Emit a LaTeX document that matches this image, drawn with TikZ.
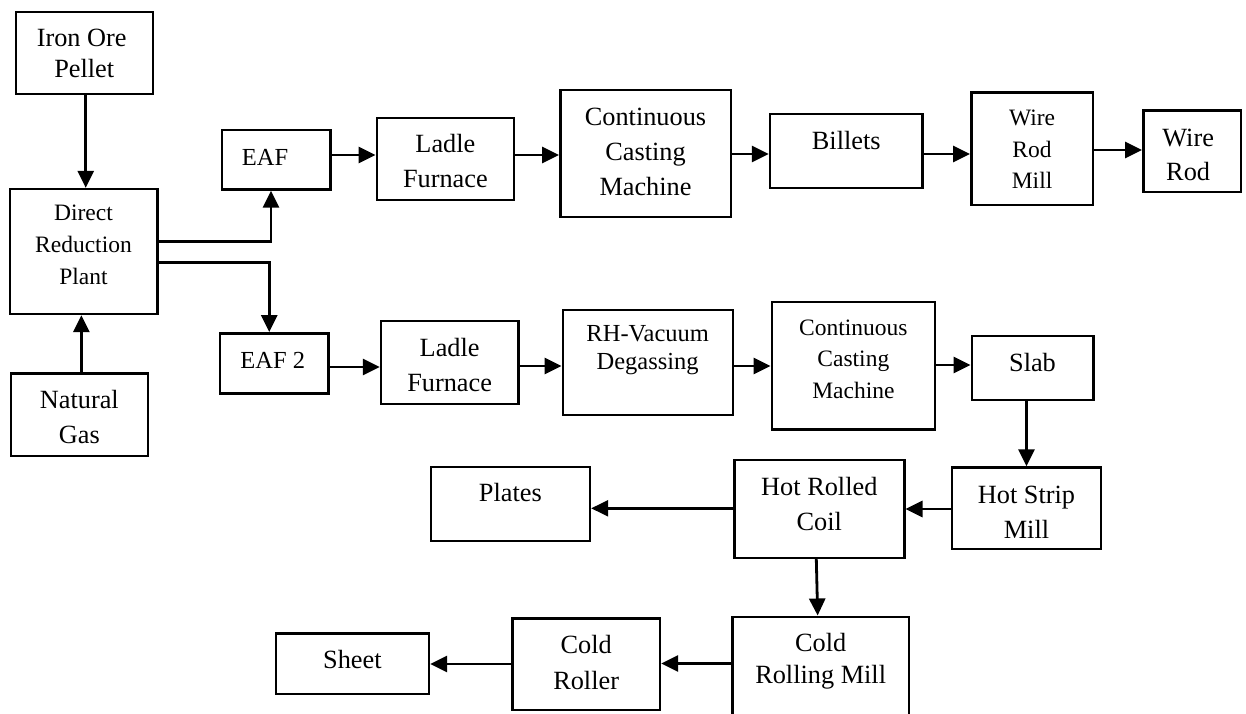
\documentclass[tikz,border=0pt]{standalone}
\usepackage{fontspec}
\setmainfont{Liberation Serif}
\usetikzlibrary{fit,calc,arrows.meta}

\begin{document}
\begin{tikzpicture}[x=1pt,y=-1pt,
  stepbox/.style={draw,line width=2.4pt,inner sep=0pt,fill=white},
  lbl/.style={inner sep=0pt,anchor=base},
  fbig/.style={font=\fontsize{26.3pt}{30pt}\selectfont},
  fmid/.style={font=\fontsize{24.5pt}{28pt}\selectfont},
  fsmall/.style={font=\fontsize{23.5pt}{28pt}\selectfont},
  arr/.style={line width=2.8pt,-{Triangle[length=17pt,width=16pt]}}]

\useasboundingbox (0,0) rectangle (1246,713);
\clip (0,0) rectangle (1246,713);
\fill[white] (0,0) rectangle (1246,713);

% ---- boxes ----
\node[stepbox,fit={(15.7,11.7) (152.7,94)}]    (iron)    {};
\node[stepbox,fit={(9.7,189) (157.3,314)}]     (drp)     {};
\node[stepbox,fit={(10.7,373.3) (148,456)}]    (gas)     {};
\node[stepbox,fit={(221.7,130) (330.3,189.5)}] (eaf)     {};
\node[stepbox,fit={(220,333.3) (328.5,393.3)}] (eaf2)    {};
\node[stepbox,fit={(376.8,117.7) (514,200)}]   (ladleA)  {};
\node[stepbox,fit={(560.3,90) (730.7,216.7)}]  (ccmA)    {};
\node[stepbox,fit={(770,114) (922.5,187.8)}]   (billets) {};
\node[stepbox,fit={(971.3,92.3) (1092.8,205)}] (wrm)     {};
\node[stepbox,fit={(1143.3,110.5) (1241,192)}] (wirerod) {};
\node[stepbox,fit={(381,320.7) (518.3,404)}]   (ladleB)  {};
\node[stepbox,fit={(562.7,310) (732.7,415)}]   (rh)      {};
\node[stepbox,fit={(771.7,301.7) (935,429.3)}] (ccmB)    {};
\node[stepbox,fit={(971.7,335.7) (1093.3,400)}] (slab)   {};
\node[stepbox,fit={(952,467.5) (1101,549)}]    (hsm)     {};
\node[stepbox,fit={(734.3,460) (904.3,557.7)}] (hrc)     {};
\node[stepbox,fit={(430.7,466.7) (590,540.7)}] (plates)  {};
\node[stepbox,fit={(732.3,616.7) (909,740)}]   (crm)     {};
\node[stepbox,fit={(512.3,618.3) (660,710)}]   (roller)  {};
\node[stepbox,fit={(275.7,633.3) (429,694)}]   (sheet)   {};

% ---- labels ----
\node[lbl,fbig] (iron-1) at ($(iron.center |- 0,46.7)+(-2.5,0)$) {Iron Ore};
\node[lbl,fbig] (iron-2) at (iron.center |- 0,77) {Pellet};

\node[lbl,fsmall] (drp-1) at (drp.center |- 0,220) {Direct};
\node[lbl,fsmall] (drp-2) at (drp.center |- 0,252.7) {Reduction};
\node[lbl,fsmall] (drp-3) at (drp.center |- 0,284) {Plant};

\node[lbl,fbig] (gas-1) at (gas.center |- 0,408.3) {Natural};
\node[lbl,fbig] (gas-2) at (gas.center |- 0,443.3) {Gas};

\node[lbl,fmid] (eaf-1)  at ($(eaf.center |- 0,165)+(-11,0)$) {EAF};
\node[lbl,fmid] (eaf2-1) at ($(eaf2.center |- 0,368.5)+(-1.5,0)$) {EAF 2};

\node[lbl,fbig] (ladleA-1) at (ladleA.center |- 0,152.7) {Ladle};
\node[lbl,fbig] (ladleA-2) at (ladleA.center |- 0,187.3) {Furnace};

\node[lbl,fbig] (ccmA-1) at (ccmA.center |- 0,125) {Continuous};
\node[lbl,fbig] (ccmA-2) at (ccmA.center |- 0,160) {Casting};
\node[lbl,fbig] (ccmA-3) at (ccmA.center |- 0,195) {Machine};

\node[lbl,fbig] (billets-1) at (billets.center |- 0,149) {Billets};

\node[lbl,fsmall] (wrm-1) at (wrm.center |- 0,125.7) {Wire};
\node[lbl,fsmall] (wrm-2) at (wrm.center |- 0,157.3) {Rod};
\node[lbl,fsmall] (wrm-3) at (wrm.center |- 0,188.3) {Mill};

\node[lbl,fbig] (wirerod-1) at ($(wirerod.center |- 0,146)+(-4,0)$) {Wire};
\node[lbl,fbig] (wirerod-2) at ($(wirerod.center |- 0,180.7)+(-4,0)$) {Rod};

\node[lbl,fbig] (ladleB-1) at (ladleB.center |- 0,356) {Ladle};
\node[lbl,fbig] (ladleB-2) at (ladleB.center |- 0,391.7) {Furnace};

\node[lbl,fmid] (rh-1) at (rh.center |- 0,341.7) {RH-Vacuum};
\node[lbl,fmid] (rh-2) at (rh.center |- 0,369.3) {Degassing};

\node[lbl,fsmall] (ccmB-1) at (ccmB.center |- 0,335) {Continuous};
\node[lbl,fsmall] (ccmB-2) at (ccmB.center |- 0,366.7) {Casting};
\node[lbl,fsmall] (ccmB-3) at (ccmB.center |- 0,398.3) {Machine};

\node[lbl,fbig] (slab-1) at (slab.center |- 0,371) {Slab};

\node[lbl,fbig] (hsm-1) at (hsm.center |- 0,503.3) {Hot Strip};
\node[lbl,fbig] (hsm-2) at (hsm.center |- 0,538.3) {Mill};

\node[lbl,fbig] (hrc-1) at (hrc.center |- 0,495) {Hot Rolled};
\node[lbl,fbig] (hrc-2) at (hrc.center |- 0,530) {Coil};

\node[lbl,fbig] (plates-1) at (plates.center |- 0,501.7) {Plates};

\node[lbl,fbig] (crm-1) at (crm.center |- 0,651.7) {Cold};
\node[lbl,fbig] (crm-2) at (crm.center |- 0,683.3) {Rolling Mill};

\node[lbl,fbig] (roller-1) at (roller.center |- 0,653.3) {Cold};
\node[lbl,fbig] (roller-2) at (roller.center |- 0,689.3) {Roller};

\node[lbl,fbig] (sheet-1) at (sheet.center |- 0,668.3) {Sheet};

% ---- connectors ----
\draw[arr] ($(iron.south)+(1.5,0)$) -- ($(iron.south |- drp.north)+(1.5,0)$);
\draw[arr] ($(gas.north)+(2,0)$) -- ($(gas.north |- drp.south)+(2,0)$);
\draw[arr] (drp.east |- 0,241.7) -| ($(eaf.south)+(-5,0)$);
\draw[arr] (drp.east |- 0,262.7) -| ($(eaf2.north)+(-5,0)$);

\draw[arr] (eaf.east |- 0,155) -- (ladleA.west |- 0,155);
\draw[arr] (ladleA.east |- 0,155) -- (ccmA.west |- 0,155);
\draw[arr] (ccmA.east |- 0,154) -- (billets.west |- 0,154);
\draw[arr] (billets.east |- 0,154) -- (wrm.west |- 0,154);
\draw[arr] (wrm.east |- 0,150) -- (wirerod.west |- 0,150);

\draw[arr] (eaf2.east |- 0,367) -- (ladleB.west |- 0,367);
\draw[arr] (ladleB.east |- 0,366) -- (rh.west |- 0,366);
\draw[arr] (rh.east |- 0,366) -- (ccmB.west |- 0,366);
\draw[arr] (ccmB.east |- 0,365) -- (slab.west |- 0,365);

\draw[arr] (hsm.north |- slab.south) -- (hsm.north);
\draw[arr] (hsm.west |- 0,509) -- (hrc.east |- 0,509);
\draw[arr] (hrc.west |- 0,508.3) -- (plates.east |- 0,508.3);
\draw[arr] ($(hrc.south)+(-3,0)$) -- ($(crm.north)+(-3,0)$);
\draw[arr] (crm.west |- 0,663.5) -- (roller.east |- 0,663.5);
\draw[arr] (roller.west |- 0,664) -- (sheet.east |- 0,664);

\end{tikzpicture}
\end{document}
